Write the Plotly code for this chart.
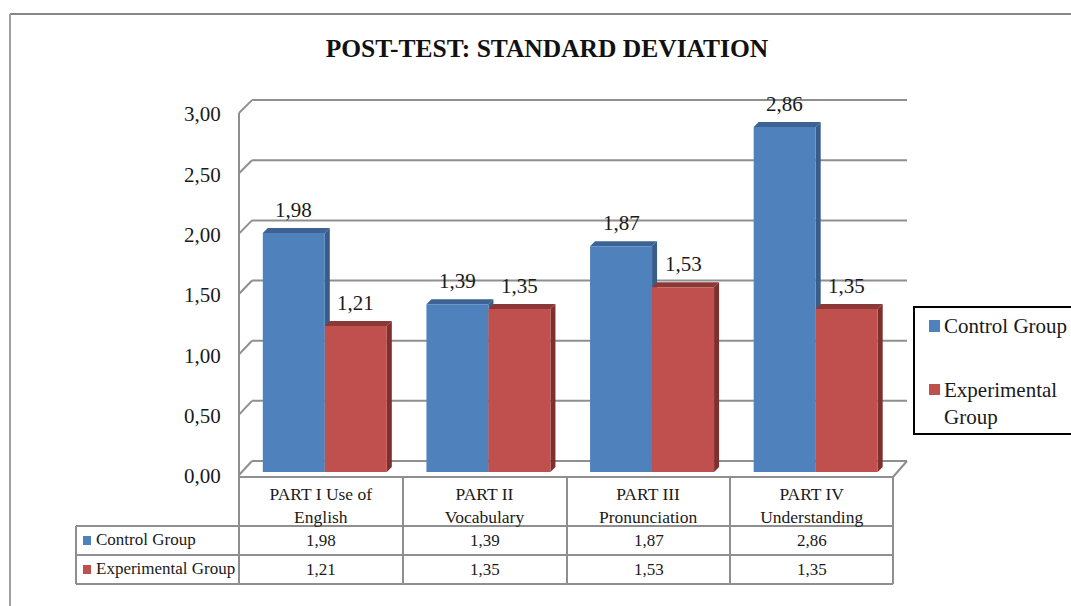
import plotly.graph_objects as go

title = "POST-TEST: STANDARD DEVIATION"
categories = ["PART I Use of<br>English", "PART II<br>Vocabulary", "PART III<br>Pronunciation", "PART IV<br>Understanding"]
series_names = ["Control Group", "Experimental Group"]
control = [1.98, 1.39, 1.87, 2.86]
experimental = [1.21, 1.35, 1.53, 1.35]
y_ticks = [0, 0.5, 1.0, 1.5, 2.0, 2.5, 3.0]

FONT = "Liberation Serif"
BLUE, BLUE_SIDE, BLUE_TOP = "#4f81bd", "#385d8a", "#3c6394"
RED, RED_SIDE, RED_TOP = "#c0504d", "#7f2f2d", "#8c3836"
GRID = "#8f8f8f"
TEXT = "#1a1a1a"

W, H = 1071, 606
L, R, T, B = 239, 907, 98, 477        # plot rectangle in pixels
PX_CAT = 163.625                      # pixels per category
PX_UNIT = 120.67                      # pixels per y unit
PLANE_X, PLANE_Y = 243, 472           # where category edge -0.5 and value 0 sit


def xd(px):
    return -0.5 + (px - PLANE_X) / PX_CAT


def yd(py):
    return (PLANE_Y - py) / PX_UNIT


def xp(px):
    return (px - L) / (R - L)


def yp(py):
    return (B - py) / (B - T)


fmt = lambda v: f"{v:.2f}".replace(".", ",")
shapes, annotations = [], []


def line(x0, y0, x1, y1, color=GRID, width=2, layer="below"):
    shapes.append(dict(type="line", xref="paper", yref="paper", x0=xp(x0), y0=yp(y0), x1=xp(x1), y1=yp(y1),
                       line=dict(color=color, width=width), layer=layer))


def rect(x0, y0, x1, y1, fill):
    shapes.append(dict(type="rect", xref="paper", yref="paper", x0=xp(x0), y0=yp(y0), x1=xp(x1), y1=yp(y1),
                       fillcolor=fill, line=dict(width=0), layer="above"))


def label(x, y, text, size, anchor="center", color=TEXT):
    annotations.append(dict(xref="paper", yref="paper", x=xp(x), y=yp(y), text=text, showarrow=False,
                            xanchor=anchor, yanchor="middle", align=anchor,
                            font=dict(family=FONT, size=size, color=color)))


# outer frame
line(10, 14, W + 2, 14, "#868686", 2)
line(10, 14, 10, H + 2, "#a0a0a0", 2)

# back wall, side diagonals and floor
for v in y_ticks:
    yf = 475 - v * PX_UNIT
    yb = 461 - v * 120.3
    line(252, yb, 907, yb)
    line(239, yf, 252, yb)
line(239, 113, 239, 477)
line(893, 477, 907, 461)

# 3D faces of bars
BAR_W = 62 / PX_CAT
BAR_GAP = 1 - 2 * BAR_W
D_X = 5 / PX_CAT
D_Y = 5 / PX_UNIT


def faces(values, x_off, side, top):
    for i, v in enumerate(values):
        x0, x1 = i + x_off, i + x_off + BAR_W
        shapes.append(dict(type="path", xref="x", yref="y", layer="below", fillcolor=side, line=dict(width=0),
                           path=f"M{x1},0 L{x1 + D_X},{D_Y} L{x1 + D_X},{v + D_Y} L{x1},{v} Z"))
        shapes.append(dict(type="path", xref="x", yref="y", layer="below", fillcolor=top, line=dict(width=0),
                           path=f"M{x0},{v} L{x1},{v} L{x1 + D_X},{v + D_Y} L{x0 + D_X},{v + D_Y} Z"))


faces(control, -BAR_W, BLUE_SIDE, BLUE_TOP)
faces(experimental, 0, RED_SIDE, RED_TOP)

fig = go.Figure()
x_pos = list(range(len(categories)))
fig.add_bar(x=x_pos, y=control, name=series_names[0], marker=dict(color=BLUE, line=dict(width=0)))
fig.add_bar(x=x_pos, y=experimental, name=series_names[1], marker=dict(color=RED, line=dict(width=0)))

# data labels
for i, (c, e) in enumerate(zip(control, experimental)):
    for v, off in ((c, -BAR_W / 2), (e, BAR_W / 2)):
        annotations.append(dict(xref="x", yref="y", x=i + off, y=v, text=fmt(v), showarrow=False, yshift=23,
                                xanchor="center", yanchor="middle", font=dict(family=FONT, size=21, color=TEXT)))

# data table
col_x = [76, 239, 403, 567, 730, 893]
row_y = [477, 526, 555, 584]
line(col_x[1], row_y[0], col_x[5], row_y[0])
for y in row_y[1:]:
    line(col_x[0], y, col_x[5], y)
line(col_x[0], row_y[1], col_x[0], row_y[3])
for x in col_x[1:]:
    line(x, row_y[0], x, row_y[3])
for r, (name, vals, col) in enumerate(((series_names[0], control, BLUE), (series_names[1], experimental, RED))):
    yc = (row_y[r + 1] + row_y[r + 2]) / 2
    rect(83, yc - 4.5, 91, yc + 4.5, col)
    label(93.5, yc - 1, name, 17, "left")
    for i, v in enumerate(vals):
        label((col_x[i + 1] + col_x[i + 2]) / 2, yc, fmt(v), 17)

# legend
shapes.append(dict(type="rect", xref="paper", yref="paper", x0=xp(914), y0=yp(307), x1=xp(W + 10), y1=yp(434),
                   line=dict(color="#000000", width=2), fillcolor="white", layer="above"))
rect(929, 320, 940, 332, BLUE)
rect(929, 384, 940, 395, RED)
label(942, 326, series_names[0], 21, "left")
label(942, 403, "Experimental<br>Group", 21, "left")

fig.update_layout(
    width=W, height=H, autosize=False,
    margin=dict(l=L, r=W - R, t=T, b=H - B, pad=0),
    paper_bgcolor="white", plot_bgcolor="rgba(0,0,0,0)",
    showlegend=False,
    barmode="group", bargap=BAR_GAP, bargroupgap=0,
    title=dict(text=f"<b>{title}</b>", x=547 / W, xref="container", xanchor="center",
               y=1 - 48 / H, yref="container", yanchor="middle",
               font=dict(family=FONT, size=25.5, color="#111111")),
    xaxis=dict(range=[xd(L), xd(R)], tickmode="array", tickvals=[i - 4 / PX_CAT for i in x_pos], ticktext=categories,
               ticks="outside", ticklen=1, tickcolor="rgba(0,0,0,0)", showgrid=False, zeroline=False, showline=False,
               tickangle=0, tickfont=dict(family=FONT, size=17.5, color=TEXT), fixedrange=True),
    yaxis=dict(range=[yd(B), yd(T)], tickmode="array", tickvals=[v + yd(476) for v in y_ticks],
               ticktext=[fmt(v) for v in y_ticks], ticks="outside", ticklen=13, tickcolor="rgba(0,0,0,0)",
               showgrid=False, zeroline=False, showline=False, tickfont=dict(family=FONT, size=21, color=TEXT),
               fixedrange=True),
    shapes=shapes, annotations=annotations,
)

fig.write_html("out.html", config=dict(displayModeBar=False),
               post_script="document.body.style.margin='0';document.body.style.overflow='hidden';")
